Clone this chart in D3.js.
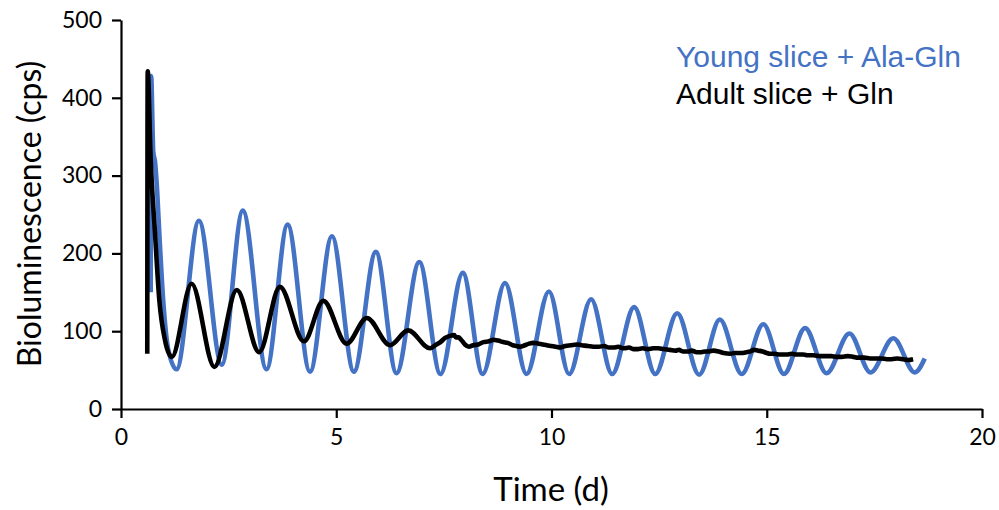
<!DOCTYPE html>
<html>
<head>
<meta charset="utf-8">
<script src="https://cdn.jsdelivr.net/npm/d3@7"></script>
<style>
  html, body { margin: 0; padding: 0; background: #fff; }
  svg { display: block; }
</style>
</head>
<body>
<svg id="chart" width="999" height="510"></svg>
<script>
// Young slice + Ala-Gln (time in days, bioluminescence in cps)
const youngTime = [0.69, 0.70, 0.75, 0.79, 0.84, 0.89, 0.98, 1.10, 1.29, 1.81, 2.34, 2.83, 3.38, 3.87, 4.39, 4.90, 5.41, 5.92, 6.40, 6.93, 7.42, 7.94, 8.40, 8.92, 9.42, 9.94, 10.41, 10.92, 11.41, 11.92, 12.41, 12.92, 13.43, 13.91, 14.42, 14.92, 15.40, 15.89, 16.39, 16.92, 17.41, 17.94, 18.44, 18.67];
const youngCps  = [150, 428, 330, 318, 280, 226, 140, 76, 51, 242, 57, 255, 51, 237, 48, 222, 48, 202, 46, 189, 45, 175, 45, 162, 45, 151, 45, 141, 45, 131, 45, 123, 44, 115, 45, 109, 45, 104, 46, 97, 47, 91, 47, 65];

// Adult slice + Gln
const adultTime = [
  0.61, 0.62, 0.69, 0.79, 0.89, 1.02, 1.18, 1.64, 2.17, 2.69, 3.21, 3.69, 4.25, 4.70, 5.24, 5.71, 6.25, 6.67, 7.18,
  7.30, 7.42, 7.52, 7.64, 7.74, 7.78, 7.84, 7.90, 7.99, 8.08, 8.18, 8.30, 8.42, 8.55, 8.65, 8.76, 8.88, 8.98,
  9.10, 9.18, 9.27, 9.38, 9.48, 9.58, 9.70, 9.80, 9.89, 10.00, 10.10, 10.20, 10.32, 10.45, 10.58, 10.70, 10.85,
  10.97, 11.10, 11.22, 11.33, 11.44, 11.55, 11.68, 11.80, 11.90, 12.00, 12.12, 12.24, 12.36, 12.48, 12.60, 12.75,
  12.88, 12.96, 13.06, 13.18, 13.26, 13.37, 13.48, 13.58, 13.66, 13.76, 13.88, 14.00, 14.15, 14.26, 14.40, 14.53,
  14.62, 14.70, 14.80, 14.90, 15.00, 15.07, 15.18, 15.30, 15.46, 15.58, 15.70, 15.85, 15.96, 16.08, 16.24, 16.36,
  16.50, 16.62, 16.74, 16.88, 17.01, 17.12, 17.26, 17.40, 17.52, 17.66, 17.79, 17.90, 18.04, 18.17, 18.28, 18.40
];
const adultCps = [
  71, 434, 320, 226, 140, 89, 67, 161, 54, 153, 73, 157, 87, 139, 84, 117, 82, 101, 78,
  82, 86, 91, 94, 95, 92, 92, 89, 83, 80, 82, 83, 86, 87, 89, 88, 86, 85,
  82, 81, 80, 82, 84, 85, 84, 83, 82, 81, 80, 79, 81, 82, 83, 82, 81,
  80, 80, 81, 79, 79, 80, 78, 79, 77, 77, 78, 77, 78, 78, 77, 76,
  75, 76, 74, 74, 75, 73, 73, 74, 74, 75, 74, 72, 71, 72, 72, 73,
  74, 76, 75, 74, 72, 71, 71, 70, 70, 71, 70, 70, 69, 69, 68, 68,
  68, 67, 67, 68, 67, 66, 66, 65, 65, 65, 64, 64, 65, 64, 63, 64
];

const xTicks = [0, 5, 10, 15, 20];
const yTicks = [0, 100, 200, 300, 400, 500];
const seriesNames = ["Young slice + Ala-Gln", "Adult slice + Gln"];
const seriesColors = ["#4472C4", "#000000"];

const svg = d3.select("#chart");
const x = d3.scaleLinear().domain([0, 20]).range([121, 982]);
const y = d3.scaleLinear().domain([0, 500]).range([409, 20]);

const tickFont = "Lato, 'Open Sans', sans-serif";

// axes
const xAxis = svg.append("g")
  .attr("transform", `translate(0,${y(0)})`)
  .call(d3.axisBottom(x).tickValues(xTicks).tickSize(9).tickSizeOuter(0).tickPadding(11));
const yAxis = svg.append("g")
  .attr("transform", `translate(${x(0)},0)`)
  .call(d3.axisLeft(y).tickValues(yTicks).tickSize(9).tickSizeOuter(0).tickPadding(10));

[xAxis, yAxis].forEach(g => {
  g.selectAll("path.domain").attr("stroke", "#000").attr("stroke-width", 2.2);
  g.selectAll(".tick line").attr("stroke", "#000").attr("stroke-width", 2.2);
  g.selectAll(".tick text")
    .attr("fill", "#000")
    .style("font-family", tickFont)
    .style("font-size", "23px");
});

// series
const line = d3.line().curve(d3.curveMonotoneX);
const youngPts = youngTime.map((t, i) => [x(t), y(youngCps[i])]);
const adultPts = adultTime.map((t, i) => [x(t), y(adultCps[i])]);

svg.append("path")
  .attr("d", line(youngPts))
  .attr("fill", "none")
  .attr("stroke", seriesColors[0])
  .attr("stroke-width", 4.6)
  .attr("stroke-linejoin", "round");

svg.append("path")
  .attr("d", line(adultPts))
  .attr("fill", "none")
  .attr("stroke", seriesColors[1])
  .attr("stroke-width", 4.6)
  .attr("stroke-linejoin", "round");

// axis titles
svg.append("text")
  .attr("x", 551).attr("y", 501)
  .attr("text-anchor", "middle")
  .style("font-family", tickFont)
  .style("font-size", "33px")
  .text("Time (d)");

svg.append("text")
  .attr("transform", "translate(41,214) rotate(-90)")
  .attr("text-anchor", "middle")
  .style("font-family", tickFont)
  .style("font-size", "32px")
  .text("Bioluminescence (cps)");

// legend
seriesNames.forEach((name, i) => {
  svg.append("text")
    .attr("x", 676).attr("y", 67 + i * 37)
    .attr("fill", seriesColors[i])
    .style("font-family", "'Liberation Sans', Arial, sans-serif")
    .style("font-size", "30px")
    .text(name);
});
</script>
</body>
</html>
